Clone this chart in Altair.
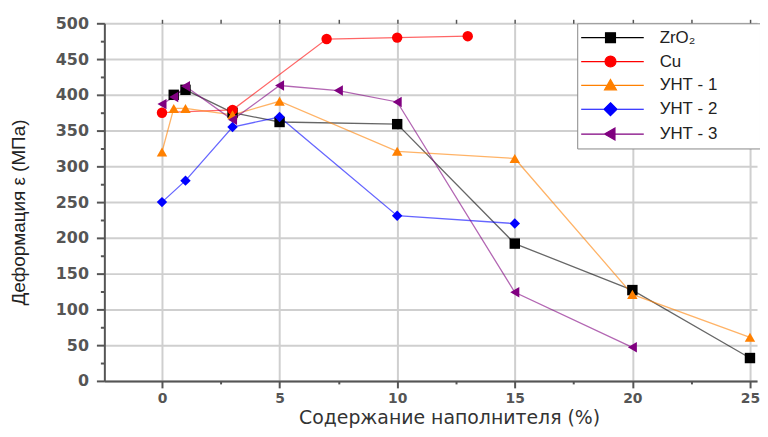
import altair as alt
import pandas as pd

series = ["ZrO₂", "Cu", "УНТ - 1", "УНТ - 2", "УНТ - 3"]
colors = ["#000000", "#ff0000", "#ff8000", "#0000ff", "#800080"]
shapes = ["square", "circle", "triangle-up", "diamond", "triangle-left"]

x_zro2 = [0.5, 1, 3, 5, 10, 15, 20, 25]
y_zro2 = [400, 407, 375, 362, 359, 192, 127, 32]
x_cu = [0, 3, 7, 10, 13]
y_cu = [375, 379, 478, 480, 482]
x_u1 = [0, 0.5, 1, 3, 5, 10, 15, 20, 25]
y_u1 = [320, 381, 381, 372, 391, 321, 311, 121, 61]
x_u2 = [0, 1, 3, 5, 10, 15]
y_u2 = [250, 280, 355, 369, 231, 220]
x_u3 = [0, 0.5, 1, 3, 5, 7.5, 10, 15, 20]
y_u3 = [387, 397, 412, 365, 413, 406, 390, 124, 47]

xs = [x_zro2, x_cu, x_u1, x_u2, x_u3]
ys = [y_zro2, y_cu, y_u1, y_u2, y_u3]

rows = []
for name, xv, yv in zip(series, xs, ys):
    for a, b in zip(xv, yv):
        rows.append({"series": name, "x": a, "y": b})
df = pd.DataFrame(rows)

x_ticks = [i * 2.5 for i in range(0, 11)]
y_ticks = [i * 25 for i in range(0, 21)]

# legend symbols: line + marker (custom paths in unit coords)
line_path = "M-6.3,0H6.3"
legend_paths = [
    line_path + "M-1.4,-1H0.6V1H-1.4Z",
    line_path + "M-1.5,0A1.1,1.1,0,1,0,0.7,0A1.1,1.1,0,1,0,-1.5,0Z",
    line_path + "M-0.4,-1.2L0.8,0.9H-1.6Z",
    line_path + "M-0.4,-1.3L0.9,0L-0.4,1.3L-1.7,0Z",
    line_path + "M-1.6,0L0.5,-1.2V1.2Z",
]

font = "Liberation Sans"

x_scale = alt.Scale(domain=[-2.45, 25.3], nice=False, zero=False)
y_scale = alt.Scale(domain=[0, 500], nice=False, zero=True)
color_scale = alt.Scale(domain=series, range=colors)

x_axis_bottom = alt.Axis(
    values=x_ticks,
    labelExpr="datum.value % 5 === 0 ? datum.label : ''",
    grid=True,
    gridColor="#cfcfcf",
    gridWidth=2,
    gridOpacity={"condition": {"test": "datum.value % 5 === 0", "value": 1}, "value": 0},
    tickSize={"condition": {"test": "datum.value % 5 === 0", "value": 7}, "value": 3},
    tickColor="#555555",
    tickWidth=2,
    domainColor="#555555",
    domainWidth=2,
    labelFont="DejaVu Sans",
    labelFontWeight="bold",
    labelFontSize=14,
    labelColor="#555555",
    labelPadding=4,
    title="Содержание наполнителя (%)",
    titleFont="DejaVu Sans",
    titleFontSize=19,
    titleFontWeight="normal",
    titleColor="#333333",
    titleX=347,
    titleY=43,
    titleBaseline="alphabetic",
    orient="bottom",
)

x_axis_top = alt.Axis(
    values=x_ticks,
    labels=False,
    grid=False,
    domain=False,
    tickSize=4,
    tickColor="#555555",
    tickWidth=1.5,
    title=None,
    orient="top",
)

y_axis = alt.Axis(
    values=y_ticks,
    labelExpr="datum.value % 50 === 0 ? datum.label : ''",
    grid=True,
    gridColor="#cfcfcf",
    gridWidth=2,
    gridOpacity={"condition": {"test": "datum.value % 50 === 0", "value": 1}, "value": 0},
    tickSize={"condition": {"test": "datum.value % 50 === 0", "value": 8}, "value": 4},
    tickColor="#555555",
    tickWidth=2,
    domainColor="#555555",
    domainWidth=2,
    labelFont="DejaVu Sans",
    labelFontWeight="bold",
    labelFontSize=16,
    labelColor="#555555",
    labelPadding=8,
    title="Деформация ε (МПа)",
    titleFont=font,
    titleFontSize=19,
    titleFontWeight="normal",
    titleColor="#222222",
    titleX=-86,
    titleY=190,
    titleBaseline="middle",
)

base = alt.Chart(df)

lines = base.mark_line(strokeWidth=1.3, opacity=0.6).encode(
    x=alt.X("x:Q", scale=x_scale, axis=x_axis_bottom),
    y=alt.Y("y:Q", scale=y_scale, axis=y_axis),
    color=alt.Color("series:N", scale=color_scale, legend=None),
    detail="series:N",
)

points = base.mark_point(filled=True, size=110, opacity=1).encode(
    x=alt.X("x:Q", scale=x_scale, axis=x_axis_top),
    y=alt.Y("y:Q", scale=y_scale, axis=y_axis),
    color=alt.Color("series:N", scale=color_scale, legend=None),
    shape=alt.Shape("series:N", scale=alt.Scale(domain=series, range=shapes), legend=None),
)

leg = alt.Legend(
    title=None,
    orient="none",
    legendX=476,
    legendY=0,
    padding=6,
    strokeColor="#888888",
    fillColor="#ffffff",
    symbolSize=100,
    symbolStrokeWidth=1.2,
    symbolOpacity=1,
    symbolOffset=21,
    labelOffset=39,
    labelFont=font,
    labelFontSize=17,
    labelColor="#222222",
    labelExpr="datum.label + '\u2800\u2800\u2800'",
    rowPadding=6,
    cornerRadius=0,
    labelLimit=200,
)

legend_layer = base.transform_filter("false").mark_point(filled=True, size=100, opacity=1).encode(
    x=alt.X("x:Q", scale=x_scale, axis=None),
    y=alt.Y("y:Q", scale=y_scale, axis=y_axis),
    fill=alt.Fill("series:N", scale=alt.Scale(domain=series, range=colors), legend=leg),
    stroke=alt.Stroke("series:N", scale=alt.Scale(domain=series, range=colors), legend=leg),
    shape=alt.Shape("series:N", scale=alt.Scale(domain=series, range=legend_paths), legend=leg),
)

chart = (
    alt.layer(lines, points, legend_layer)
    .resolve_scale(color="independent", shape="independent", fill="independent", stroke="independent")
    .resolve_axis(x="independent")
    .properties(
        width=657,
        height=360,
        autosize=alt.AutoSizeParams(type="none"),
        padding={"left": 97, "top": 14, "right": 3, "bottom": 47},
    )
    .configure_view(stroke=None)
)

chart.save("out.html", embed_options={"renderer": "svg", "actions": False})
